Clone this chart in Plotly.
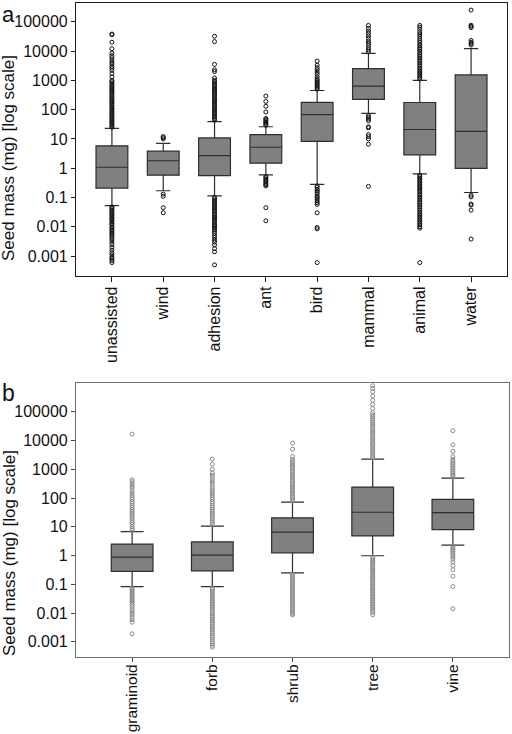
import plotly.graph_objects as go

# ---------------- data: panel a (dispersal mode) ----------------
dispersal = ["unassisted", "wind", "adhesion", "ant", "bird", "mammal", "animal", "water"]
disp_lowerfence = [0.053, 0.17, 0.114, 0.59, 0.28, 75, 0.64, 0.148]
disp_q1 = [0.21, 0.58, 0.56, 1.48, 8.3, 225, 2.85, 0.98]
disp_median = [1.08, 1.8, 2.7, 5.2, 68, 630, 21, 18]
disp_q3 = [5.8, 3.8, 10.8, 14, 178, 2520, 175, 1530]
disp_upperfence = [23, 7, 39, 26, 450, 8300, 990, 12000]

out_unassisted = [25, 28, 31, 35, 39, 44, 49, 55, 62, 70, 78, 88, 100, 110, 125, 140, 160, 180, 200,
                  220, 250, 280, 320, 360, 400, 450, 500, 560, 630, 700, 800, 900, 1000, 1300, 1700,
                  2200, 2600, 3000, 3600, 4200, 5000, 6000, 7000, 8500, 12000, 20000, 36000, 38000,
                  0.048, 0.043, 0.038, 0.034, 0.030, 0.027, 0.024, 0.021, 0.019, 0.017, 0.015, 0.013,
                  0.012, 0.010, 0.009, 0.008, 0.007, 0.0062, 0.0055, 0.0048, 0.0042, 0.0036, 0.003,
                  0.0025, 0.002, 0.0016, 0.0013, 0.0011, 0.0009, 0.0008, 0.0007, 0.0006]
out_wind = [10, 11, 12, 0.13, 0.11, 0.045, 0.03]
out_adhesion = [44, 49, 55, 62, 70, 78, 88, 100, 110, 125, 140, 160, 180, 200, 220, 250, 280, 320,
                360, 400, 450, 500, 560, 630, 700, 800, 900, 1000, 1200, 2000, 2300, 3500, 21000, 32000,
                0.1, 0.09, 0.08, 0.072, 0.064, 0.057, 0.05, 0.045, 0.04, 0.036, 0.032, 0.028, 0.025,
                0.022, 0.02, 0.018, 0.016, 0.014, 0.012, 0.011, 0.01, 0.009, 0.008, 0.007, 0.006,
                0.005, 0.0043, 0.0035, 0.003, 0.0024, 0.0018, 0.0014, 0.0005]
out_ant = [29, 32, 35, 38, 42, 46, 50, 83, 130, 190, 290,
           0.52, 0.47, 0.42, 0.38, 0.34, 0.3, 0.27, 0.25, 0.045, 0.016]
out_bird = [500, 550, 620, 700, 780, 870, 970, 1100, 1300, 1600, 1900, 2300, 2700, 3300, 4500,
            0.25, 0.22, 0.19, 0.17, 0.15, 0.13, 0.11, 0.1, 0.088, 0.076, 0.066, 0.058, 0.03,
            0.0095, 0.0085, 0.0006]
out_mammal = [9500, 11000, 13000, 15500, 18500, 22000, 27000, 33000, 40000, 48000, 60000, 75000,
              62, 55, 48, 42, 26, 24, 14, 12, 10, 6.6, 0.24]
out_animal = [1100, 1250, 1400, 1600, 1800, 2000, 2300, 2600, 3000, 3400, 3900, 4500, 5100, 5800,
              6600, 7600, 8700, 10000, 11500, 13000, 15000, 17000, 20000, 23000, 27000, 32000,
              38000, 45000, 55000, 65000, 75000,
              0.58, 0.52, 0.46, 0.41, 0.36, 0.32, 0.28, 0.25, 0.22, 0.2, 0.175, 0.155, 0.135, 0.12,
              0.105, 0.093, 0.082, 0.072, 0.063, 0.055, 0.048, 0.042, 0.037, 0.032, 0.028, 0.025,
              0.022, 0.019, 0.017, 0.015, 0.013, 0.0115, 0.01, 0.009, 0.0006]
out_water = [16000, 18000, 20000, 23000, 63000, 70000, 76000, 250000,
             0.12, 0.105, 0.06, 0.055, 0.037, 0.0038]

# ---------------- data: panel b (growth form) ----------------
growth = ["graminoid", "forb", "shrub", "tree", "vine"]
grow_lowerfence = [0.083, 0.083, 0.25, 0.98, 2.3]
grow_q1 = [0.28, 0.29, 1.24, 4.8, 8]
grow_median = [0.88, 1.03, 6.5, 32, 31]
grow_q3 = [2.5, 3.0, 20.5, 240, 89]
grow_upperfence = [6.8, 10.5, 72, 2250, 490]

out_graminoid = [7.5, 8.5, 10, 12, 14, 16, 19, 22, 26, 30, 35, 40, 47, 55, 65, 75, 90, 105, 125, 150,
                 180, 220, 260, 310, 370, 430, 16600,
                 0.075, 0.067, 0.06, 0.053, 0.047, 0.042, 0.037, 0.033, 0.029, 0.026, 0.023, 0.02,
                 0.017, 0.014, 0.012, 0.01, 0.0085, 0.007, 0.0058, 0.0048, 0.0019]
out_forb = [12, 14, 16, 19, 22, 26, 30, 35, 40, 47, 55, 65, 75, 90, 105, 125, 150, 180, 210, 250, 300,
            360, 430, 520, 620, 750, 1000, 1500, 2250,
            0.075, 0.066, 0.058, 0.051, 0.045, 0.04, 0.035, 0.031, 0.027, 0.024, 0.021, 0.018,
            0.016, 0.014, 0.012, 0.0105, 0.0092, 0.008, 0.007, 0.0061, 0.0053, 0.0046, 0.004,
            0.0035, 0.003, 0.0026, 0.0022, 0.0019, 0.0016, 0.0014, 0.0012, 0.001, 0.00088,
            0.00076, 0.00065]
out_shrub = [80, 92, 105, 120, 140, 160, 185, 210, 240, 280, 320, 370, 430, 500, 580, 670, 780, 900,
             1050, 1200, 1400, 1650, 1900, 2200, 2800, 5000, 8100,
             0.22, 0.19, 0.17, 0.15, 0.13, 0.115, 0.1, 0.088, 0.077, 0.068, 0.06, 0.052, 0.046,
             0.04, 0.035, 0.031, 0.027, 0.024, 0.021, 0.018, 0.016, 0.014, 0.012, 0.0105, 0.0095,
             0.0087]
out_tree = [2500, 2900, 3300, 3800, 4400, 5100, 5900, 6800, 7800, 9000, 10500, 12000, 14000, 16000,
            18500, 21000, 24500, 28000, 32500, 37500, 43000, 50000, 58000, 67000, 77000, 92000,
            130000, 180000, 250000, 350000, 500000, 650000, 800000,
            0.87, 0.77, 0.68, 0.6, 0.53, 0.47, 0.41, 0.36, 0.32, 0.28, 0.25, 0.22, 0.19, 0.17,
            0.15, 0.13, 0.115, 0.1, 0.088, 0.077, 0.068, 0.06, 0.052, 0.046, 0.04, 0.035, 0.031,
            0.027, 0.024, 0.021, 0.018, 0.016, 0.014, 0.012, 0.0105, 0.0087]
out_vine = [560, 640, 730, 830, 950, 1100, 1250, 1450, 1650, 1900, 2200, 2750, 4200, 7100, 22000,
            2.1, 1.8, 1.6, 1.4, 1.2, 1.05, 0.9, 0.75, 0.6, 0.45, 0.32, 0.19, 0.083, 0.014]

tick_values = [0.001, 0.01, 0.1, 1, 10, 100, 1000, 10000, 100000]
tick_labels = ["0.001", "0.01", "0.1", "1", "10", "100", "1000", "10000", "100000"]
y_title = "Seed mass (mg) [log scale]"

FONT = "Liberation Sans, Arial, Helvetica, sans-serif"
BOX_FILL = "#808080"
BOX_LINE = "#2e2e2e"

disp_outliers = [out_unassisted, out_wind, out_adhesion, out_ant, out_bird,
                 out_mammal, out_animal, out_water]
grow_outliers = [out_graminoid, out_forb, out_shrub, out_tree, out_vine]

fig = go.Figure()

# panel a boxes
fig.add_trace(go.Box(
    x=dispersal, q1=disp_q1, median=disp_median, q3=disp_q3,
    lowerfence=disp_lowerfence, upperfence=disp_upperfence,
    boxpoints=False, fillcolor=BOX_FILL, line=dict(color=BOX_LINE, width=1.2),
    whiskerwidth=0.45, width=0.62, xaxis="x", yaxis="y", showlegend=False,
    hoverinfo="skip",
))
ax, ay = [], []
for cat, vals in zip(dispersal, disp_outliers):
    ax += [cat] * len(vals)
    ay += vals
fig.add_trace(go.Scatter(
    x=ax, y=ay, mode="markers", xaxis="x", yaxis="y", showlegend=False,
    marker=dict(symbol="circle-open", size=4, color="#111111", line=dict(width=1, color="#111111")),
))

# panel b boxes
fig.add_trace(go.Box(
    x=growth, q1=grow_q1, median=grow_median, q3=grow_q3,
    lowerfence=grow_lowerfence, upperfence=grow_upperfence,
    boxpoints=False, fillcolor=BOX_FILL, line=dict(color=BOX_LINE, width=1.2),
    whiskerwidth=0.55, width=0.52, xaxis="x2", yaxis="y2", showlegend=False,
    hoverinfo="skip",
))
bx, by = [], []
for cat, vals in zip(growth, grow_outliers):
    bx += [cat] * len(vals)
    by += vals
fig.add_trace(go.Scatter(
    x=bx, y=by, mode="markers", xaxis="x2", yaxis="y2", showlegend=False,
    marker=dict(symbol="circle-open", size=4, color="#8a8a8a", line=dict(width=1, color="#8a8a8a")),
))

L, R, T, B = 76, 3, 3, 77
W, H = 512, 734
PW = W - L - R
PH = H - T - B


def py(px):
    return (H - B - px) / PH


def pxx(px):
    return (px - L) / PW


common_x = dict(type="category", showgrid=False, zeroline=False, showline=True, mirror=True,
                ticks="outside", ticklen=5, tickwidth=1, tickangle=-90, automargin=False)
common_y = dict(type="log", showgrid=False, zeroline=False, showline=True, mirror=True,
                ticks="outside", ticklen=4, tickwidth=1, tickmode="array",
                tickvals=tick_values, ticktext=tick_labels, automargin=False,
                tickfont=dict(size=16, color="#111111", family=FONT))

fig.update_layout(
    width=W, height=H,
    margin=dict(l=L, r=R, t=T, b=B),
    paper_bgcolor="white", plot_bgcolor="white",
    font=dict(family=FONT, color="#111111"),
    xaxis=dict(common_x, domain=[0, pxx(507)], anchor="y", range=[-0.7, 7.7],
               categoryorder="array", categoryarray=dispersal, ticklabelstandoff=-2,
               tickfont=dict(size=16, color="#111111", family=FONT),
               linecolor="#1a1a1a", tickcolor="#1a1a1a", linewidth=1.2),
    yaxis=dict(common_y, domain=[py(276), 1], anchor="x", range=[-3.68, 5.64],
               linecolor="#1a1a1a", tickcolor="#1a1a1a", linewidth=1.2),
    xaxis2=dict(common_x, domain=[0, 1], anchor="y2", range=[-0.7, 4.7],
                categoryorder="array", categoryarray=growth, ticklen=4, ticklabelstandoff=-4,
                tickfont=dict(size=15.5, color="#111111", family=FONT),
                linecolor="#6e6e6e", tickcolor="#444444", linewidth=1.2),
    yaxis2=dict(common_y, domain=[0, py(383)], anchor="x2", range=[-3.53, 6.0],
                linecolor="#6e6e6e", tickcolor="#444444", linewidth=1.2),
    annotations=[
        dict(text="a", xref="paper", yref="paper", x=pxx(8), y=py(0), showarrow=False,
             font=dict(size=22, family=FONT, color="#111111"), xanchor="center", yanchor="top"),
        dict(text="b", xref="paper", yref="paper", x=pxx(8), y=py(393), showarrow=False,
             font=dict(size=23, family=FONT, color="#111111"), xanchor="center", yanchor="middle"),
        dict(text=y_title, xref="paper", yref="paper", x=pxx(9), y=py(158), showarrow=False,
             textangle=-90, font=dict(size=17, family=FONT, color="#111111"),
             xanchor="center", yanchor="middle"),
        dict(text=y_title, xref="paper", yref="paper", x=pxx(9), y=py(553), showarrow=False,
             textangle=-90, font=dict(size=17, family=FONT, color="#111111"),
             xanchor="center", yanchor="middle"),
    ],
)

fig.write_html(
    "out.html",
    config={"displayModeBar": False},
    post_script="document.body.style.margin='0';document.body.style.padding='0';"
                "document.body.style.overflow='hidden';",
)
